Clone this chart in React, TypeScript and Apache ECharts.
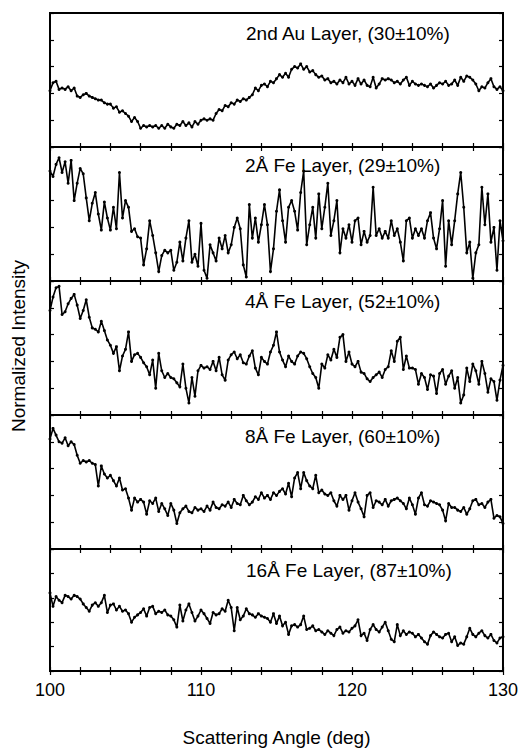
import React, { useEffect, useRef } from "react";
import * as echarts from "echarts";

// Sampling grid of the scattering angle (deg)
const ANGLE_MIN = 100;
const ANGLE_MAX = 130;
const ANGLE_STEP = 0.2;
const xTickLabels = [100, 110, 120, 130];

const panelLabels = [
  "2nd Au Layer, (30±10%)",
  "2Å Fe Layer, (29±10%)",
  "4Å Fe Layer, (52±10%)",
  "8Å Fe Layer, (60±10%)",
  "16Å Fe Layer, (87±10%)",
];

// Normalized intensity, each panel scaled 0..100 (bottom..top of its frame)
const au2nd = [
  42, 48, 49, 43, 44, 43, 45, 42, 44, 38,
  37, 39, 40, 38, 37, 36, 35, 35, 33, 32,
  32, 29, 30, 26, 27, 25, 23, 19, 22, 19,
  14, 16, 15, 16, 15, 16, 14, 16, 14, 17,
  15, 14, 17, 16, 19, 16, 18, 15, 19, 17,
  20, 21, 20, 21, 20, 25, 28, 27, 31, 30,
  33, 32, 35, 34, 36, 35, 37, 39, 44, 42,
  46, 47, 45, 49, 48, 51, 54, 52, 55, 52,
  58, 60, 59, 62, 58, 60, 56, 57, 54, 52,
  53, 50, 51, 48, 49, 47, 50, 48, 52, 47,
  49, 46, 51, 47, 50, 46, 45, 52, 44, 47,
  51, 50, 51, 50, 48, 49, 47, 50, 52, 46,
  49, 47, 46, 47, 46, 45, 47, 44, 46, 48,
  47, 49, 46, 47, 50, 46, 52, 49, 53, 52,
  50, 47, 42, 45, 44, 48, 51, 45, 43, 45,
  42,
];

const fe2 = [
  82, 78, 87, 92, 81, 89, 73, 90, 60, 73,
  84, 80, 62, 45, 58, 66, 50, 38, 59, 47,
  38, 55, 39, 81, 47, 60, 55, 37, 39, 33,
  32, 12, 24, 45, 34, 21, 7, 19, 23, 21,
  23, 8, 14, 29, 15, 32, 45, 14, 20, 11,
  43, 8, 2, 27, 21, 15, 32, 24, 34, 21,
  27, 40, 47, 39, 12, 3, 57, 32, 47, 29,
  42, 57, 42, 7, 24, 52, 68, 45, 29, 55,
  60, 52, 38, 66, 82, 27, 42, 55, 32, 65,
  39, 55, 73, 34, 45, 60, 21, 39, 32, 42,
  29, 45, 47, 27, 37, 29, 34, 70, 34, 39,
  32, 37, 32, 45, 34, 39, 29, 15, 45, 47,
  32, 39, 34, 39, 32, 45, 51, 32, 24, 39,
  60, 11, 45, 27, 45, 65, 81, 55, 21, 29,
  2, 21, 27, 70, 42, 65, 29, 40, 8, 45,
  30,
];

const fe4 = [
  78, 88, 95, 96, 75, 77, 83, 87, 90, 82,
  72, 78, 86, 73, 65, 64, 62, 70, 63, 56,
  52, 46, 51, 33, 44, 49, 62, 40, 45, 46,
  43, 39, 36, 30, 41, 20, 46, 33, 28, 31,
  28, 27, 24, 21, 38, 20, 9, 28, 14, 33,
  37, 35, 36, 34, 40, 33, 43, 30, 26, 41,
  45, 47, 42, 45, 39, 38, 44, 48, 35, 30,
  43, 40, 38, 47, 52, 62, 47, 41, 36, 44,
  40, 38, 44, 47, 46, 42, 36, 31, 28, 20,
  38, 35, 45, 41, 49, 43, 58, 60, 40, 47,
  38, 36, 40, 32, 31, 27, 25, 28, 30, 32,
  28, 34, 36, 48, 40, 55, 58, 34, 44, 35,
  35, 34, 23, 31, 28, 19, 30, 29, 16, 31,
  34, 23, 29, 33, 20, 28, 9, 15, 35, 25,
  38, 33, 23, 40, 31, 17, 27, 25, 11, 26,
  37,
];

const fe8 = [
  82, 90, 85, 80, 79, 83, 77, 80, 78, 70,
  64, 66, 65, 66, 64, 63, 47, 62, 56, 53,
  55, 51, 47, 53, 44, 45, 38, 29, 38, 35,
  37, 35, 26, 36, 34, 38, 28, 34, 30, 25,
  34, 29, 19, 27, 30, 32, 28, 27, 31, 29,
  30, 28, 32, 29, 35, 31, 30, 33, 32, 35,
  31, 37, 34, 33, 40, 36, 33, 35, 39, 37,
  42, 38, 40, 37, 42, 40, 43, 45, 41, 49,
  39, 53, 57, 45, 57, 51, 47, 45, 55, 42,
  44, 41, 40, 42, 36, 32, 40, 37, 40, 29,
  36, 42, 35, 30, 24, 40, 42, 31, 36, 35,
  33, 37, 32, 36, 37, 38, 36, 34, 30, 38,
  33, 26, 38, 42, 33, 32, 36, 35, 34, 33,
  29, 21, 34, 31, 31, 29, 28, 31, 26, 30,
  36, 37, 33, 34, 31, 35, 37, 23, 25, 24,
  19,
];

const fe16 = [
  64, 53, 61, 58, 56, 62, 61, 59, 62, 61,
  59, 55, 52, 49, 54, 56, 53, 56, 62, 48,
  54, 55, 50, 53, 49, 50, 47, 40, 44, 46,
  48, 51, 45, 52, 53, 47, 49, 48, 50, 46,
  45, 42, 36, 54, 41, 50, 55, 48, 41, 45,
  50, 47, 43, 39, 48, 46, 47, 51, 49, 58,
  52, 33, 52, 42, 45, 51, 47, 46, 44, 47,
  45, 44, 43, 40, 47, 39, 45, 37, 40, 30,
  37, 38, 36, 38, 45, 34, 35, 37, 33, 34,
  32, 30, 33, 31, 29, 34, 36, 31, 33, 32,
  35, 37, 42, 29, 31, 25, 34, 38, 34, 32,
  36, 40, 33, 26, 24, 38, 29, 33, 30, 32,
  31, 28, 30, 27, 24, 22, 29, 32, 30, 28,
  27, 30, 31, 24, 28, 21, 23, 22, 28, 35,
  30, 28, 31, 33, 29, 27, 30, 25, 23, 27,
  28,
];

const panelData = [au2nd, fe2, fe4, fe8, fe16];

const FONT = '"Liberation Sans", Arial, Helvetica, sans-serif';
const LEFT = 50;
const WIDTH = 453;
const TOP = 13;
const PANEL_H = 134;
const labelX = [246, 245, 245, 245, 246];
const labelDY = [20, 18, 20, 21, 21];

export default function App() {
  const ref = useRef<HTMLDivElement>(null);

  useEffect(() => {
    if (!ref.current) return;
    const chart = echarts.init(ref.current, undefined, { renderer: "svg" });
    const n = panelData.length;

    const grids = panelData.map((_, i) => ({
      left: LEFT,
      top: TOP + PANEL_H * i,
      width: WIDTH,
      height: PANEL_H,
      show: true,
      borderColor: "#000",
      borderWidth: 2,
      backgroundColor: "transparent",
    }));

    const tickStyle = { show: true, inside: true, length: 4, lineStyle: { color: "#000", width: 1.2 } };

    const xAxes: any[] = [];
    const yAxes: any[] = [];
    panelData.forEach((_, i) => {
      const isLast = i === n - 1;
      xAxes.push({
        type: "value",
        gridIndex: i,
        min: ANGLE_MIN,
        max: ANGLE_MAX,
        interval: 2,
        position: "bottom",
        axisLine: { show: false },
        axisTick: tickStyle,
        splitLine: { show: false },
        axisLabel: {
          show: isLast,
          showMinLabel: true,
          showMaxLabel: true,
          formatter: (v: number) => (xTickLabels.indexOf(Math.round(v)) >= 0 ? String(Math.round(v)) : ""),
          fontSize: 18,
          fontFamily: FONT,
          color: "#000",
          margin: 10,
        },
        name: isLast ? "Scattering Angle (deg)" : "",
        nameLocation: "middle",
        nameGap: 57,
        nameTextStyle: { fontSize: 19, fontFamily: FONT, color: "#000" },
      });
      xAxes.push({
        type: "value",
        gridIndex: i,
        min: ANGLE_MIN,
        max: ANGLE_MAX,
        interval: 2,
        position: "top",
        axisLine: { show: false },
        axisTick: tickStyle,
        splitLine: { show: false },
        axisLabel: { show: false },
      });
      ["left", "right"].forEach((pos) => {
        yAxes.push({
          type: "value",
          gridIndex: i,
          min: 0,
          max: 100,
          interval: 20,
          position: pos,
          axisLine: { show: false },
          axisTick: tickStyle,
          splitLine: { show: false },
          axisLabel: { show: false },
        });
      });
    });

    const series = panelData.map((vals, i) => ({
      type: "line",
      xAxisIndex: 2 * i,
      yAxisIndex: 2 * i,
      data: vals.map((v, j) => [Math.round((ANGLE_MIN + j * ANGLE_STEP) * 10) / 10, v]),
      symbol: "circle",
      symbolSize: 3,
      showSymbol: true,
      lineStyle: { color: "#000", width: 1.6 },
      itemStyle: { color: "#000" },
      z: 3,
    }));

    const graphics: any[] = panelLabels.map((t, i) => ({
      type: "text",
      x: labelX[i],
      y: TOP + PANEL_H * i + labelDY[i],
      z: 10,
      style: {
        text: t,
        font: `19px ${FONT}`,
        fill: "#000",
        align: "left",
        verticalAlign: "middle",
      },
    }));
    graphics.push({
      type: "text",
      x: 18,
      y: 346,
      rotation: Math.PI / 2,
      style: {
        text: "Normalized Intensity",
        font: `19px ${FONT}`,
        fill: "#000",
        align: "center",
        verticalAlign: "middle",
      },
    });

    chart.setOption({
      animation: false,
      backgroundColor: "#fff",
      grid: grids,
      xAxis: xAxes,
      yAxis: yAxes,
      series,
      graphic: graphics,
    });

    return () => chart.dispose();
  }, []);

  return (
    <div
      ref={ref}
      style={{ position: "fixed", left: 0, top: 0, width: 521, height: 748 }}
    />
  );
}
